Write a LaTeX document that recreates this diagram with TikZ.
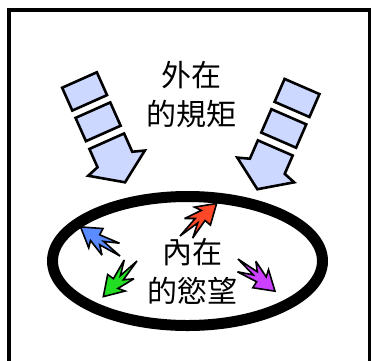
\documentclass[tikz,border=0pt]{standalone}
\usepackage{fontspec}
\newfontfamily\cjk{Noto Sans CJK TC}
\definecolor{blockfill}{HTML}{CCD8FF}
\definecolor{redarr}{HTML}{FF4828}
\definecolor{bluearr}{HTML}{5A8CFF}
\definecolor{greenarr}{HTML}{22DD22}
\definecolor{magarr}{HTML}{CC40FF}
\tikzset{
  blk/.style={draw=black,fill=blockfill,line width=2.6pt,line join=miter},
  spk/.style={draw=black,line width=1.6pt,line join=miter,miter limit=4},
  lbl/.style={font=\cjk\fontsize{30}{39}\selectfont,align=center,inner sep=0pt}
}
\newcommand\blockarrow[3]{%
  \begin{scope}[shift={(#1,#2)},rotate=#3]
    \draw[blk] (0,-19) rectangle (25,19);
    \draw[blk] (33,-19) rectangle (58.5,19);
    \draw[blk] (67,-19) -- (87,-19) -- (91,-31) -- (112,0) -- (91,31) -- (87,19) -- (67,19) -- cycle;
  \end{scope}}
\newcommand\spkarrow[4]{%
  \begin{scope}[shift={(#1,#2)},rotate=#3]
    \draw[spk,fill=#4] (49,0) -- (30,12) -- (33,5) -- (15,10) -- (23,3) -- (0,0) -- (22,-2)
      -- (8,-10) -- (29,-5) -- (30,-12) -- cycle;
  \end{scope}}
\begin{document}
\begin{tikzpicture}[x=1pt,y=1pt]
  \useasboundingbox (0,0) rectangle (372,-360);
  \fill[white] (0,0) rectangle (372,-360);
  \begin{scope}
    \clip (0,0) rectangle (372,-360);
    \draw[line width=3.5pt] (9,-10) rectangle (369.5,-420);
  \end{scope}
  % block arrows (outer rules)
  \blockarrow{79.5}{-80}{-66}
  \blockarrow{302}{-86.5}{-113.5}
  % ellipse (inner desire boundary)
  \draw[line width=11pt] (187.5,-261) ellipse [x radius=135,y radius=64.5];
  % spiky arrows
  \spkarrow{180}{-236}{41.6}{redarr}
  \spkarrow{120}{-256}{143.6}{bluearr}
  \spkarrow{137}{-261}{-133.4}{greenarr}
  \spkarrow{238}{-259}{-41}{magarr}
  % labels
  \node[lbl] (outer) at (191,-94.5) {外在\\的規矩};
  \node[lbl] (inner) at (192,-271.5) {內在\\的慾望};
\end{tikzpicture}
\end{document}
